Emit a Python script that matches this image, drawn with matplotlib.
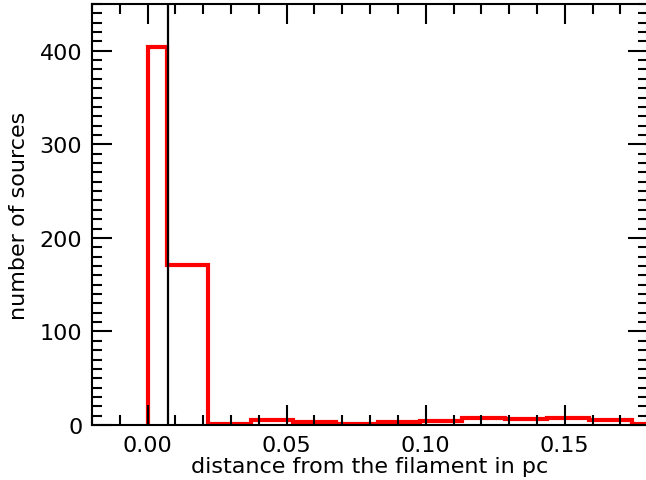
import numpy as np
import matplotlib
matplotlib.use("Agg")
import matplotlib.pyplot as plt
from matplotlib.ticker import MultipleLocator

# histogram of source distances (bin edges in pc, counts per bin)
edges = [0.0, 0.0071, 0.0218, 0.0372, 0.0524, 0.0676, 0.0828,
         0.0980, 0.1132, 0.1284, 0.1436, 0.1588, 0.1740, 0.1892]
counts = [404, 171, 1, 5, 3, 1, 3, 4, 7, 6, 8, 5, 1]
filament_width = 0.0074

fig = plt.figure(figsize=(6.46, 4.81), dpi=100)
ax = fig.add_axes([0.1424, 0.1143, 0.861, 0.8753])

ax.stairs(counts, edges, color="red", linewidth=3)
ax.axvline(filament_width, color="black", linewidth=1.6)

ax.set_xlim(-0.02, 0.18)
ax.set_ylim(0, 450)
ax.xaxis.set_major_locator(MultipleLocator(0.05))
ax.xaxis.set_minor_locator(MultipleLocator(0.01))
ax.yaxis.set_major_locator(MultipleLocator(100))
ax.yaxis.set_minor_locator(MultipleLocator(10))
ax.tick_params(which="both", direction="in", top=True, right=True,
               labelsize=16, width=1.5)
ax.tick_params(which="major", length=14.4, pad=7)
ax.tick_params(which="minor", length=7.2)
for s in ax.spines.values():
    s.set_linewidth(1.5)

ax.set_xlabel("distance from the filament in pc", fontsize=16, labelpad=1)
ax.set_ylabel("number of sources", fontsize=16, labelpad=8)

fig.savefig("out.png", dpi=100)
